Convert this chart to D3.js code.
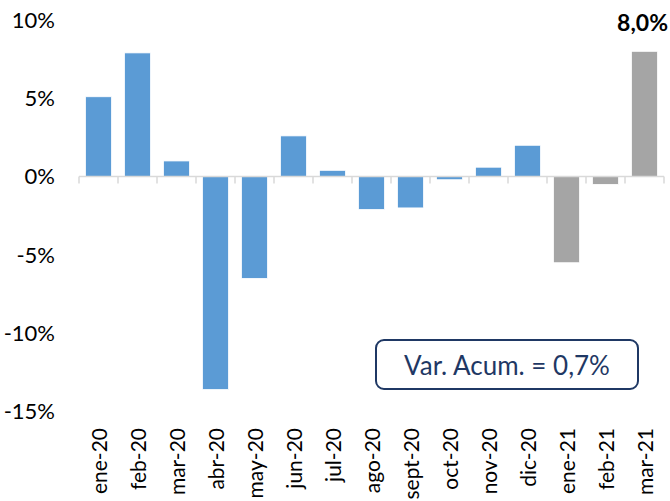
<!DOCTYPE html>
<html>
<head>
<meta charset="utf-8">
<script src="https://cdn.jsdelivr.net/npm/d3@7"></script>
<style>
  body { margin: 0; background: #fff; }
  text { font-family: Lato, "Open Sans", sans-serif; fill: #000; }
</style>
</head>
<body>
<svg width="670" height="501"></svg>
<script>
const months = ['ene-20', 'feb-20', 'mar-20', 'abr-20', 'may-20', 'jun-20', 'jul-20', 'ago-20',
  'sept-20', 'oct-20', 'nov-20', 'dic-20', 'ene-21', 'feb-21', 'mar-21'];
const values = [5.1, 7.9, 1.0, -13.6, -6.5, 2.6, 0.4, -2.1, -2.0, -0.2, 0.6, 2.0, -5.5, -0.5, 8.0];
const isNewYear = [false, false, false, false, false, false, false, false,
  false, false, false, false, true, true, true];
const yTicks = [10, 5, 0, -5, -10, -15];
const accumLabel = 'Var. Acum. = 0,7%';

const svg = d3.select('svg');

const x = d3.scaleBand()
  .domain(months)
  .range([79, 664])
  .paddingInner(0.33)
  .paddingOuter(0.165);

const y = d3.scaleLinear()
  .domain([-15, 10])
  .range([411.5, 20]);

// y labels (no axis line)
svg.append('g')
  .selectAll('text')
  .data(yTicks)
  .join('text')
    .attr('x', 55)
    .attr('y', d => y(d))
    .attr('dy', '0.35em')
    .attr('text-anchor', 'end')
    .attr('font-size', 22)
    .text(d => d + '%');

// bars
svg.append('g')
  .selectAll('rect')
  .data(values)
  .join('rect')
    .attr('x', (d, i) => x(months[i]))
    .attr('y', d => y(Math.max(0, d)))
    .attr('width', x.bandwidth())
    .attr('height', d => Math.abs(y(d) - y(0)))
    .attr('fill', (d, i) => isNewYear[i] ? '#a5a5a5' : '#5b9bd5')
    .attr('stroke', '#fff')
    .attr('stroke-width', 0.8);

// zero axis with boundary ticks
const step = x.step();
const axisG = svg.append('g');
axisG.append('line')
  .attr('x1', 79).attr('x2', 664)
  .attr('y1', y(0)).attr('y2', y(0))
  .attr('stroke', '#d9d9d9').attr('stroke-width', 1.5);
axisG.selectAll('line.tick')
  .data(d3.range(months.length + 1))
  .join('line')
    .attr('class', 'tick')
    .attr('x1', i => 79 + i * step)
    .attr('x2', i => 79 + i * step)
    .attr('y1', y(0))
    .attr('y2', y(0) + 7)
    .attr('stroke', '#d9d9d9').attr('stroke-width', 1.5);

// month labels, rotated
svg.append('g')
  .selectAll('text')
  .data(months)
  .join('text')
    .attr('transform', d => `translate(${x(d) + x.bandwidth() / 2 + 8}, 428) rotate(-90)`)
    .attr('text-anchor', 'end')
    .attr('font-size', 21)
    .text(d => d);

// value label over last bar
const last = months.length - 1;
svg.append('text')
  .attr('x', 668)
  .attr('y', y(values[last]) - 20)
  .attr('text-anchor', 'end')
  .attr('font-size', 23)
  .attr('font-weight', 'bold')
  .text(d3.format('.1f')(values[last]).replace('.', ',') + '%');

// accumulated variation box
const box = svg.append('g');
box.append('rect')
  .attr('x', 376).attr('y', 340)
  .attr('width', 262).attr('height', 49)
  .attr('rx', 8)
  .attr('fill', '#fff')
  .attr('stroke', '#1f3864')
  .attr('stroke-width', 2);
box.append('text')
  .attr('x', 507).attr('y', 366)
  .attr('dy', '0.35em')
  .attr('text-anchor', 'middle')
  .attr('font-size', 26)
  .style('fill', '#1f3864')
  .text(accumLabel);
</script>
</body>
</html>
